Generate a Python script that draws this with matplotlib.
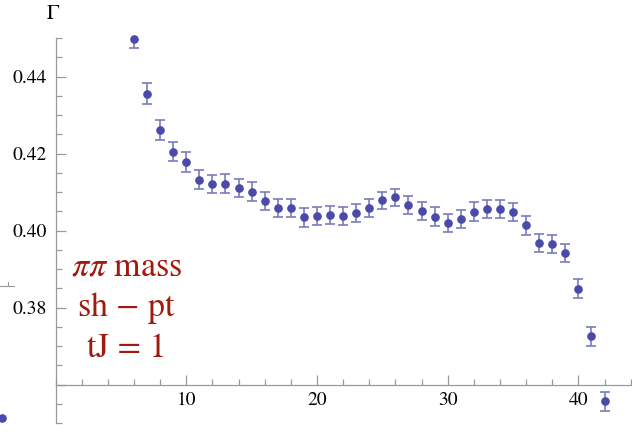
import numpy as np
import matplotlib
matplotlib.use("Agg")
import matplotlib.pyplot as plt
from matplotlib.ticker import MultipleLocator, FixedLocator

plt.rcParams['font.family'] = ['STIXGeneral', 'Liberation Serif', 'DejaVu Serif']
plt.rcParams['mathtext.fontset'] = 'stix'

# Gamma vs time slice
t = np.arange(6, 43)
gamma = [0.4498, 0.4355, 0.4261, 0.4205, 0.4178, 0.4132, 0.4121, 0.4122,
         0.4111, 0.4101, 0.4077, 0.4058, 0.4058, 0.4034, 0.4037, 0.4040,
         0.4037, 0.4046, 0.4058, 0.4078, 0.4086, 0.4066, 0.4051, 0.4036,
         0.4020, 0.4030, 0.4049, 0.4056, 0.4056, 0.4048, 0.4013, 0.3968,
         0.3965, 0.3941, 0.3849, 0.3725, 0.3556]
gamma_err = [0.0025, 0.0027, 0.0026, 0.0024, 0.0025, 0.0024, 0.0024, 0.0024,
             0.0024, 0.0024, 0.0024, 0.0024, 0.0024, 0.0024, 0.0024, 0.0024,
             0.0024, 0.0024, 0.0024, 0.0023, 0.0023, 0.0024, 0.0024, 0.0024,
             0.0024, 0.0024, 0.0024, 0.0024, 0.0024, 0.0024, 0.0024, 0.0024,
             0.0024, 0.0024, 0.0025, 0.0025, 0.0024]

# stray point and axis stub left of the frame
stray_x = [-4.1]
stray_y = [0.3512]
stub_x = [-4.3, -3.2]
stub_y = [0.3856, 0.3856]

x_major = [10, 20, 30, 40]
y_major = [0.36, 0.38, 0.40, 0.42, 0.44]
y_labels = ['', '0.38', '0.40', '0.42', '0.44']

W, H = 632, 433
fig = plt.figure(figsize=(W / 100, H / 100), dpi=100)
ax = fig.add_axes([55.5 / W, 10 / H, 576.5 / W, 385 / H])

dot = '#4a4aaa'
bar = '#7a7ac0'
ax.errorbar(t, gamma, yerr=gamma_err, fmt='none', ecolor=bar, elinewidth=1.2,
            capsize=3.5, capthick=1.2, clip_on=True)
ax.plot(t, gamma, 'o', color=dot, ms=5.2, clip_on=False, zorder=3)
ax.plot(stray_x, stray_y, 'o', color=dot, ms=5.2, clip_on=False)
ax.plot(stub_x, stub_y, color='#999999', lw=0.8, clip_on=False)
ax.plot([-3.65, -3.65], [0.3856, 0.3866], color='#999999', lw=0.8, clip_on=False)

ax.set_xlim(0, 44.1)
ax.set_ylim(0.35, 0.45)

for s in ['top', 'right']:
    ax.spines[s].set_visible(False)
ax.spines['bottom'].set_position(('data', 0.36))
ax.spines['left'].set_position(('data', 0))
for s in ['bottom', 'left']:
    ax.spines[s].set_color('#999999')
    ax.spines[s].set_linewidth(0.9)

ax.xaxis.set_major_locator(FixedLocator(x_major))
ax.xaxis.set_minor_locator(MultipleLocator(2))
ax.yaxis.set_major_locator(FixedLocator(y_major))
ax.yaxis.set_minor_locator(MultipleLocator(0.005))
ax.set_yticklabels(y_labels)
ax.tick_params(which='both', direction='in', color='#999999', width=0.9,
               labelsize=14, labelcolor='black')
ax.tick_params(which='major', length=7)
ax.tick_params(which='minor', length=4.5)
ax.tick_params(axis='x', pad=5)
ax.tick_params(axis='y', pad=6)

fig.text(53 / W, 1 - 14 / H, r'$\Gamma$', ha='center', va='center',
         fontsize=15)

red = '#a01a0e'
lines = [r'$\pi\pi$ mass', 'sh $-$ pt', 'tJ = 1']
for i, s in enumerate(lines):
    fig.text(127 / W, 1 - (268 + 40.5 * i) / H, s, ha='center', va='center',
             fontsize=24.5, color=red)

fig.savefig('out.png', dpi=100)
